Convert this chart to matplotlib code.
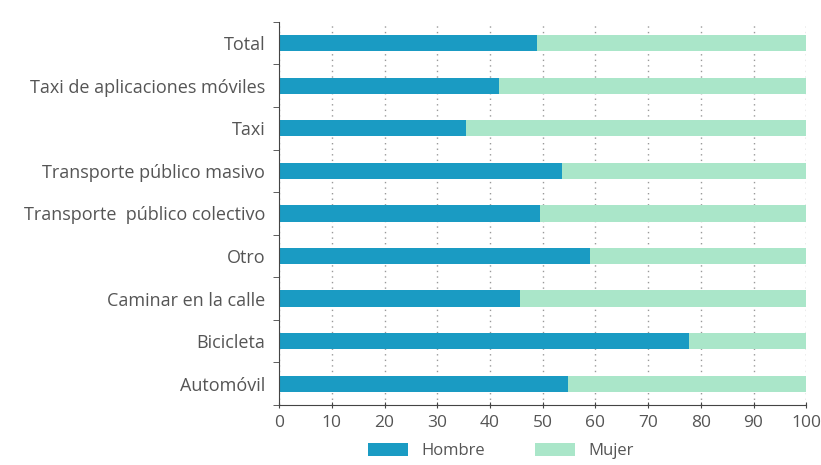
import matplotlib.pyplot as plt
import numpy as np

plt.rcParams['font.family'] = ['Open Sans', 'DejaVu Sans']

categorias = ['Automóvil', 'Bicicleta', 'Caminar en la calle', 'Otro',
              'Transporte  público colectivo', 'Transporte público masivo',
              'Taxi', 'Taxi de aplicaciones móviles', 'Total']
hombre = [54.8, 77.8, 45.7, 59.0, 49.5, 53.7, 35.5, 41.7, 49.0]
mujer = [100 - h for h in hombre]
xticks = [0, 10, 20, 30, 40, 50, 60, 70, 80, 90, 100]

c_h = '#1a9bc3'
c_m = '#aae6c9'
gris = '#555555'

fig = plt.figure(figsize=(8.21, 4.65), dpi=100)
ax = fig.add_axes([0.34, 0.129, 0.642, 0.824])

y = np.arange(len(categorias))
ax.barh(y, hombre, height=0.38, color=c_h, label='Hombre', zorder=2)
ax.barh(y, mujer, left=hombre, height=0.38, color=c_m, label='Mujer', zorder=2)

ax.set_xlim(0, 100)
ax.set_ylim(-0.5, len(categorias) - 0.5)
ax.set_xticks(xticks)
ax.set_xticklabels([str(v) for v in xticks], fontsize=12.5, color=gris)
ax.set_yticks(y)
ax.set_yticklabels(categorias, fontsize=13, color=gris)
ax.set_yticks(np.arange(-0.5, len(categorias), 1), minor=True)
ax.tick_params(axis='y', which='major', length=0, pad=10)
ax.tick_params(axis='y', which='minor', length=4, direction='out', color='#444444')
ax.tick_params(axis='x', length=5, direction='inout', color='#444444', pad=5)

ax.grid(axis='x', linestyle=(0, (1, 3)), color='#999999', linewidth=1, zorder=1)
for s in ['top', 'right']:
    ax.spines[s].set_visible(False)
ax.spines['left'].set_color('#444444')
ax.spines['bottom'].set_color('#444444')

ax.legend(loc='center', bbox_to_anchor=(0.42, -0.12), ncol=2, frameon=False,
          fontsize=12, labelcolor=gris, handlelength=2.4, handleheight=0.9,
          columnspacing=3.0, borderaxespad=0)

fig.savefig('out.png', dpi=100)
